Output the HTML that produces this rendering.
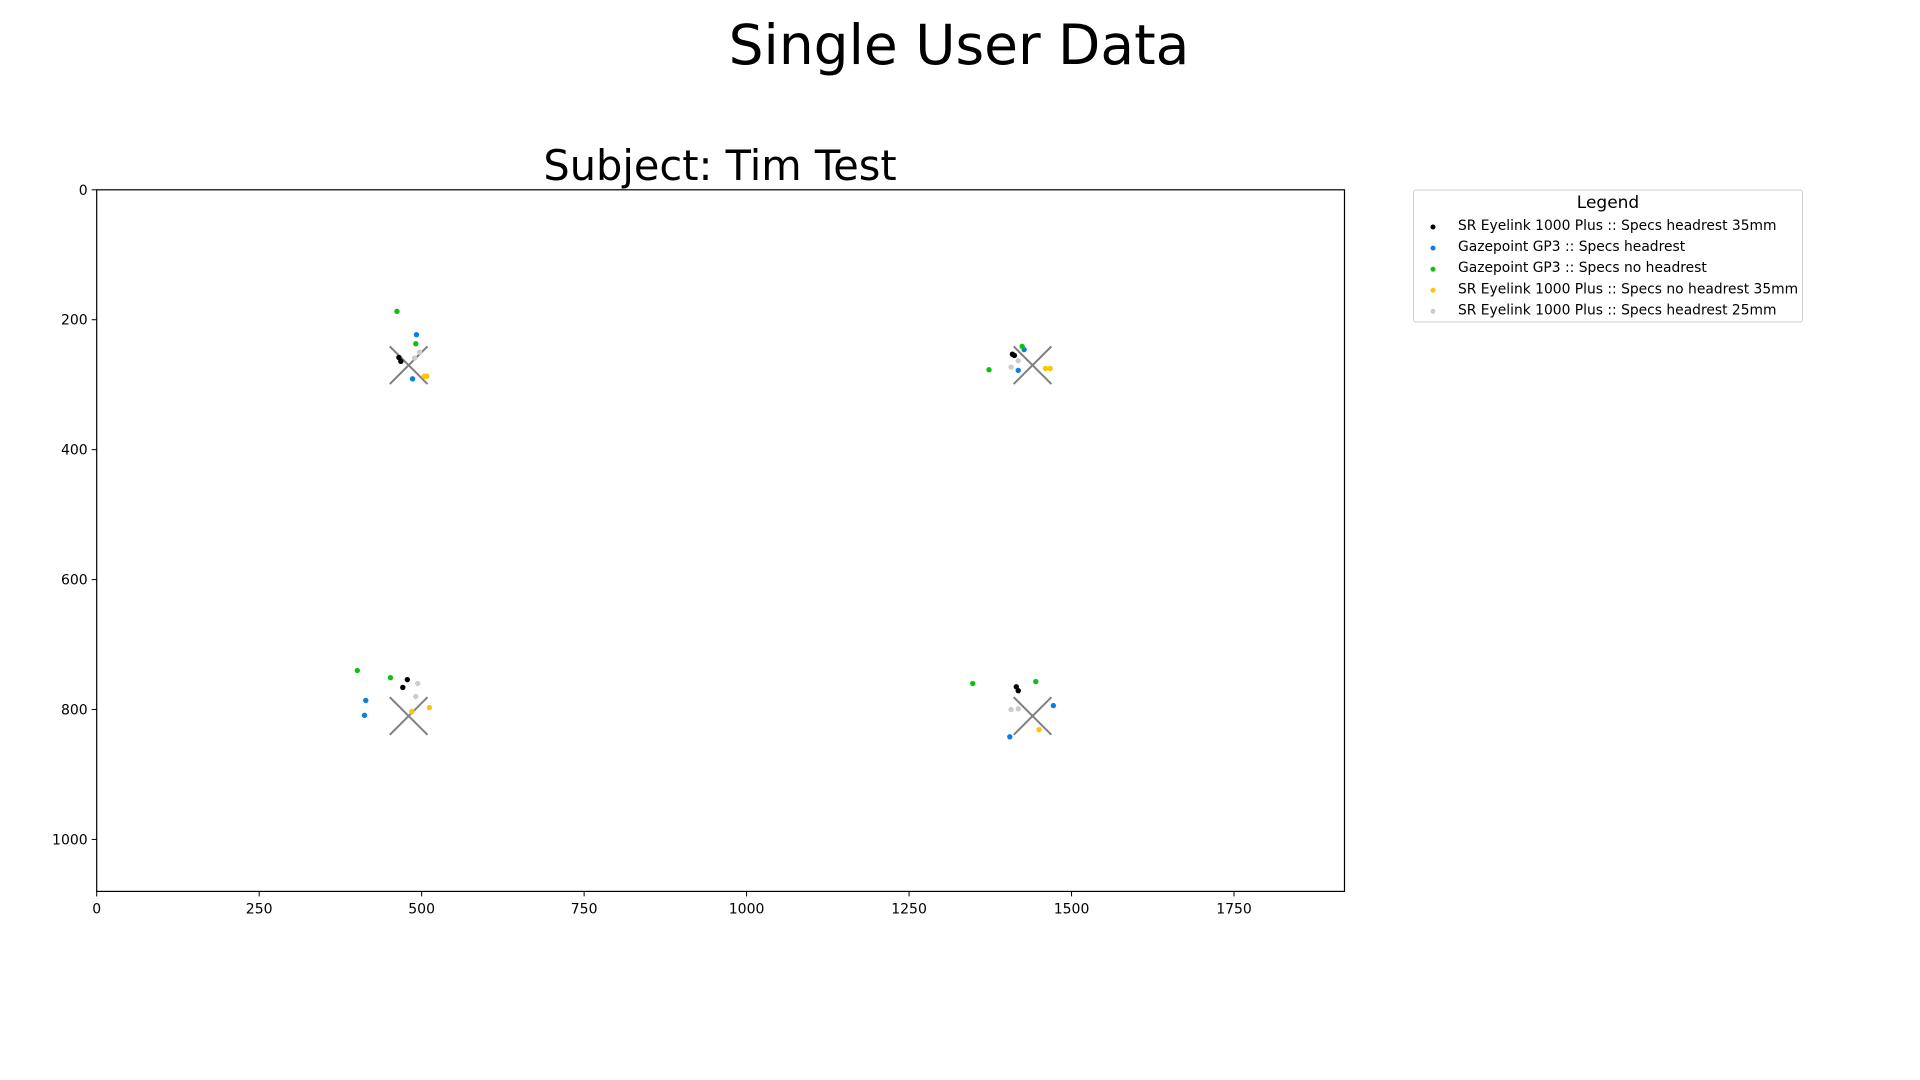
<!DOCTYPE html>
<html><head><meta charset="utf-8">
<style>
html,body{margin:0;padding:0;background:#fff;}
svg{display:block;font-family:"DejaVu Sans","Liberation Sans",sans-serif;}
</style></head>
<body>
<svg id="chart" width="1920" height="1080" viewBox="0 0 1920 1080">
<text x="959" y="64" font-size="55" text-anchor="middle">Single User Data</text>
<text x="720" y="180" font-size="41.5" text-anchor="middle">Subject: Tim Test</text>
<g id="plot"></g>
<g id="legend"></g>
</svg>
<script>
const seriesNames = ["SR Eyelink 1000 Plus :: Specs headrest 35mm","Gazepoint GP3 :: Specs headrest","Gazepoint GP3 :: Specs no headrest","SR Eyelink 1000 Plus :: Specs no headrest 35mm","SR Eyelink 1000 Plus :: Specs headrest 25mm"];
const seriesColors = ["#000000","#0a7ee8","#10c010","#ffc400","#cccccc"];
const targetsX = [480,1440,480,1440];
const targetsY = [270,270,810,810];
const blackX = [465,468,1409,1412,478,471,1415,1418];
const blackY = [258,264,253,255,754,766,765,771];
const blueX = [492,486,1427,1418,414,412,1472,1405];
const blueY = [223,291,246,278,786,809,794,842];
const greenX = [462,491,1424,1373,401,452,1348,1445];
const greenY = [187,237,241,277,740,751,760,757];
const yellowX = [504,508,1460,1467,485,512,1450];
const yellowY = [287,287,275,275,803,797,831];
const grayX = [497,489,1418,1407,494,491,1407,1418];
const grayY = [250,259,263,273,760,780,800,799];
const xTicks = [0,250,500,750,1000,1250,1500,1750];
const yTicks = [0,200,400,600,800,1000];

const NS="http://www.w3.org/2000/svg";
const L=96.7,R=1344.5,T=189.8,B=891.4;
const sx=v=>L+v*(R-L)/1920;
const sy=v=>T+v*(B-T)/1080;
function mk(tag,attrs,parent){const e=document.createElementNS(NS,tag);for(const k in attrs)e.setAttribute(k,attrs[k]);parent.appendChild(e);return e;}
const plot=document.getElementById('plot');
const frame=mk('rect',{x:L,y:T,width:R-L,height:B-T,fill:'none',stroke:'#000','stroke-width':1.2},plot);


xTicks.forEach(t=>{
  const ln=mk('line',{x1:sx(t),x2:sx(t),y1:B,y2:B+5,stroke:'#000'},plot);
  
  
  const tx=mk('text',{x:sx(t),y:B+22,'font-size':14,'text-anchor':'middle'},plot);
  tx.textContent=t;
  
  
});
yTicks.forEach(t=>{
  const ln=mk('line',{x1:L-5,x2:L,y1:sy(t),y2:sy(t),stroke:'#000'},plot);
  
  
  const tx=mk('text',{x:L-9,y:sy(t)+5,'font-size':14,'text-anchor':'end'},plot);
  tx.textContent=t;
  
  
});
targetsX.forEach((x,i)=>{
  const y=targetsY[i],h=29;
  const g=mk('g',{stroke:'#808080','stroke-width':2},plot);
  
  
  mk('line',{x1:sx(x-h),y1:sy(y-h),x2:sx(x+h),y2:sy(y+h)},g);
  mk('line',{x1:sx(x-h),y1:sy(y+h),x2:sx(x+h),y2:sy(y-h)},g);
});
const allX=[blackX,blueX,greenX,yellowX,grayX],allY=[blackY,blueY,greenY,yellowY,grayY];
allX.forEach((xs,s)=>{
  xs.forEach((x,i)=>{
    const c=mk('circle',{cx:sx(x),cy:sy(allY[s][i]),r:2.7,fill:seriesColors[s]},plot);
    
    
  });
});
const lg=document.getElementById('legend');
const box=mk('rect',{x:1413.5,y:190,width:389,height:132,rx:3,fill:'#fff',stroke:'#d0d0d0'},lg);


const lt=mk('text',{x:1608,y:208,'font-size':17,'text-anchor':'middle'},lg);
lt.textContent='Legend';


seriesNames.forEach((n,i)=>{
  const y=225+i*21.1;
  const c=mk('circle',{cx:1433,cy:y+2,r:2.5,fill:seriesColors[i]},lg);
  
  
  const t=mk('text',{x:1458,y:y+5,'font-size':13.85},lg);
  t.textContent=n;
  
  
});
</script>
</body></html>
